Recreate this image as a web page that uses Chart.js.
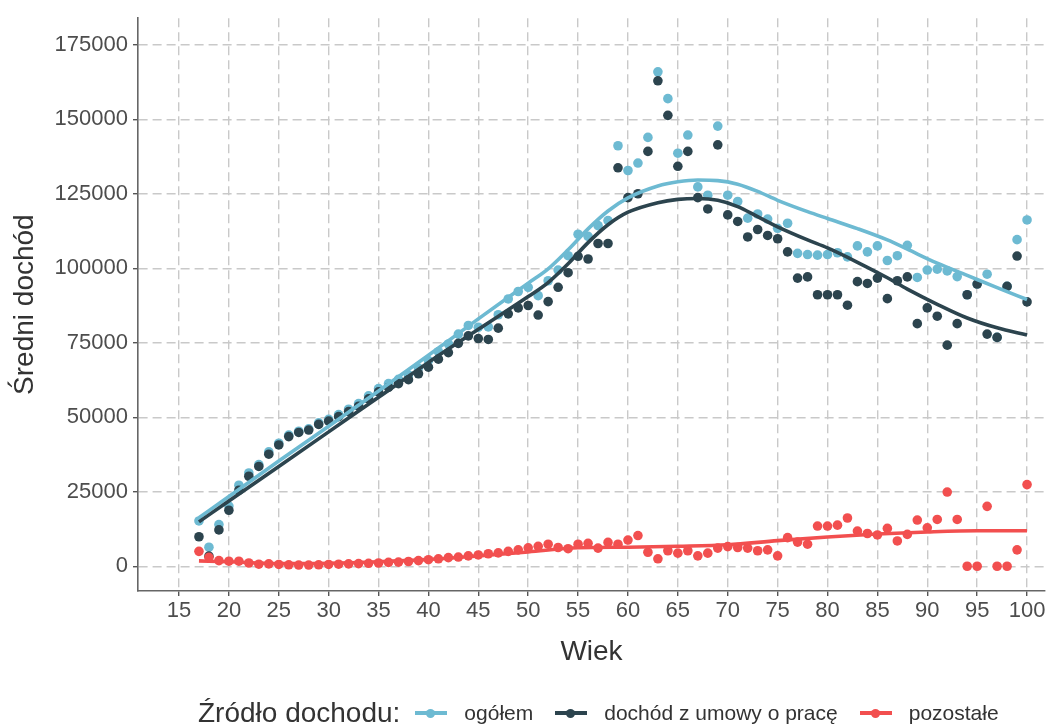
<!DOCTYPE html>
<html>
<head>
<meta charset="utf-8">
<script src="https://cdn.jsdelivr.net/npm/chart.js@4.4.0/dist/chart.umd.min.js"></script>
<style>
  body { margin: 0; background: #fff; }
  #wrap { position: relative; width: 1063px; height: 728px; }
  #legend { position: absolute; left: 198px; top: 697px; height: 32px; display: flex; align-items: center;
            font-family: "Liberation Sans", Arial, sans-serif; color: #333; white-space: nowrap; }
  #legend .title { font-size: 28px; margin-right: 15px; }
  #legend .key { position: relative; width: 32px; height: 20px; margin-right: 17px; }
  #legend .key .ln { position: absolute; left: 0; right: 0; top: 8px; height: 4px; }
  #legend .key .dt { position: absolute; left: 11px; top: 5.5px; width: 9px; height: 9px; border-radius: 50%; }
  #legend .txt { font-size: 21px; margin-right: 22px; color: #333; }
</style>
</head>
<body>
<div id="wrap">
  <canvas id="chart_Dochod" width="1063" height="728"></canvas>
  <div id="legend"></div>
</div>
<script>
// wiek 17..100
var ages = [17,18,19,20,21,22,23,24,25,26,27,28,29,30,31,32,33,34,35,36,37,38,39,40,
  41,42,43,44,45,46,47,48,49,50,51,52,53,54,55,56,57,58,59,60,61,62,63,64,65,66,67,68,
  69,70,71,72,73,74,75,76,77,78,79,80,81,82,83,84,85,86,87,88,89,90,91,92,93,94,95,96,
  97,98,99,100];

var ogolem = [15200,6400,14000,20200,27200,31300,34100,38400,41300,44000,45300,46100,48100,
  49300,50900,52700,54600,57200,59600,61300,62700,64200,66500,69000,72000,74600,77900,80800,
  80200,80300,84400,89700,92200,93600,90800,95800,99400,104200,111400,110700,114300,116000,
  141100,132800,135300,143900,165900,156900,138600,144700,127300,124500,147700,124500,122400,
  116800,118200,116500,113400,115100,105000,104600,104400,104600,105200,103800,107500,105500,
  107500,102600,104200,107700,96900,99400,99700,99100,97200,91100,94700,98000,76800,93900,
  109600,116200];

var umowa = [9900,3400,12200,18800,25500,30200,33500,37600,40700,43500,44900,45700,47600,
  48700,50200,51900,53700,56200,58500,60000,61300,62600,64600,66800,69500,71700,74800,77300,
  76400,76100,79900,84700,86700,87500,84300,88800,93600,98500,104000,103100,108300,108300,
  133700,123700,125000,139200,162900,151300,134200,139200,123700,119900,141400,117900,115700,
  110500,113000,111000,109900,105500,96700,97100,91100,91100,91100,87600,95500,94900,96700,
  89800,95800,97100,81400,86700,83900,74200,81400,91100,94700,77900,76800,93900,104100,88700];

var pozostale = [5000,3000,1900,1700,1700,1100,700,800,600,500,400,400,500,600,700,800,900,
  1000,1100,1300,1400,1600,1900,2200,2500,2900,3100,3500,3800,4200,4500,5000,5500,6200,6700,
  7400,6300,5900,7400,7700,6100,8000,7400,8800,10300,4700,2500,5200,4400,5200,3500,4400,6100,
  6600,6300,6100,5200,5500,3500,9600,8100,7400,13500,13500,13800,16200,11800,11000,10500,
  12700,8500,10700,15500,12900,15700,24900,15700,0,0,20100,0,0,5500,27400];

// wygladzone linie trendu
var trendAges = [17,20,25,30,35,40,45,50,52,54,56,58,60,63,65,67,69,71,73,75,78,80,83,86,88,91,94,97,100];
var trendOgolem = [16300,23400,35300,47000,58800,70800,83000,95000,99800,106200,113200,119200,
  123600,127600,129000,129600,129400,128200,125800,122800,119000,116700,113300,109500,106400,
  101700,97600,93500,89500];
var trendUmowa = [14900,21900,33500,45100,56700,68400,79500,90500,95200,101500,108600,114600,
  118800,122000,123100,123400,122800,120700,117300,113900,109500,106800,102000,96800,93000,
  87900,83300,80000,77600];
var trendAgesPoz = [17,20,25,30,35,40,45,50,55,60,65,70,75,80,85,90,95,100];
var trendPozostale = [1800,1500,900,1000,1500,2300,3500,4800,6200,6400,6700,7200,8600,9800,
  10800,11500,11900,11900];

var xTicks = [15,20,25,30,35,40,45,50,55,60,65,70,75,80,85,90,95,100];
var yTicks = [0,25000,50000,75000,100000,125000,150000,175000];

var seriesNames = ['ogółem', 'dochód z umowy o pracę', 'pozostałe'];
var seriesColors = ['#6dbad2', '#2c444e', '#f24f4f'];

function toPoints(xs, ys) {
  var out = [];
  for (var i = 0; i < xs.length; i++) {
    out.push({x: xs[i], y: ys[i]});
  }
  return out;
}

function pointSet(i, values, order) {
  return {
    label: seriesNames[i],
    data: toPoints(ages, values),
    backgroundColor: seriesColors[i],
    borderWidth: 0,
    pointRadius: 4.8,
    showLine: false,
    order: order
  };
}

function lineSet(i, xs, values, order) {
  return {
    label: seriesNames[i] + ' (trend)',
    data: toPoints(xs, values),
    borderColor: seriesColors[i],
    borderWidth: 3.6,
    pointRadius: 0,
    showLine: true,
    fill: false,
    cubicInterpolationMode: 'monotone',
    order: order
  };
}

function createLegend() {
  var el = document.getElementById('legend');
  var html = '<span class="title">Źródło dochodu:</span>';
  for (var i = 0; i < seriesNames.length; i++) {
    html += '<span class="key"><i class="ln" style="background:' + seriesColors[i] + '"></i>' +
            '<i class="dt" style="background:' + seriesColors[i] + '"></i></span>' +
            '<span class="txt">' + seriesNames[i] + '</span>';
  }
  el.innerHTML = html;
}

function createChart() {
  var tickFont = {family: 'Liberation Sans', size: 22};
  var titleFont = {family: 'Liberation Sans', size: 28};
  new Chart(document.getElementById('chart_Dochod'), {
    type: 'scatter',
    data: {
      datasets: [
        lineSet(2, trendAgesPoz, trendPozostale, 0),
        lineSet(1, trendAges, trendUmowa, 1),
        lineSet(0, trendAges, trendOgolem, 2),
        pointSet(2, pozostale, 3),
        pointSet(1, umowa, 4),
        pointSet(0, ogolem, 5)
      ]
    },
    options: {
      responsive: false,
      animation: false,
      layout: {padding: {left: 8, right: 18, top: 10, bottom: 59}},
      plugins: {legend: {display: false}, tooltip: {enabled: false}},
      scales: {
        x: {
          type: 'linear',
          min: 10.89,
          max: 101.8,
          afterBuildTicks: function (s) { s.ticks = xTicks.map(function (v) { return {value: v}; }); },
          afterFit: function (s) { s.height = 78; },
          ticks: {font: tickFont, color: '#4d4d4d', padding: 2, maxRotation: 0, autoSkip: false},
          grid: {color: '#c9c9c9', lineWidth: 1.4, tickLength: 5, tickColor: '#555', tickWidth: 1.4, tickBorderDash: []},
          border: {display: true, color: '#666', width: 1.6, dash: [9, 5]},
          title: {display: true, text: 'Wiek', font: titleFont, color: '#333', padding: 0}
        },
        y: {
          type: 'linear',
          min: -8300,
          max: 183900,
          afterBuildTicks: function (s) { s.ticks = yTicks.map(function (v) { return {value: v}; }); },
          afterFit: function (s) { s.width = 130; },
          ticks: {font: tickFont, color: '#4d4d4d', padding: 5, callback: function (v) { return String(v); }},
          grid: {color: '#c9c9c9', lineWidth: 1.4, tickLength: 5, tickColor: '#555', tickWidth: 1.4, tickBorderDash: []},
          border: {display: true, color: '#666', width: 1.6, dash: [9, 5]},
          title: {display: true, text: 'Średni dochód', font: titleFont, color: '#333', padding: 0}
        }
      }
    }
  });
}

createLegend();
createChart();
</script>
</body>
</html>
